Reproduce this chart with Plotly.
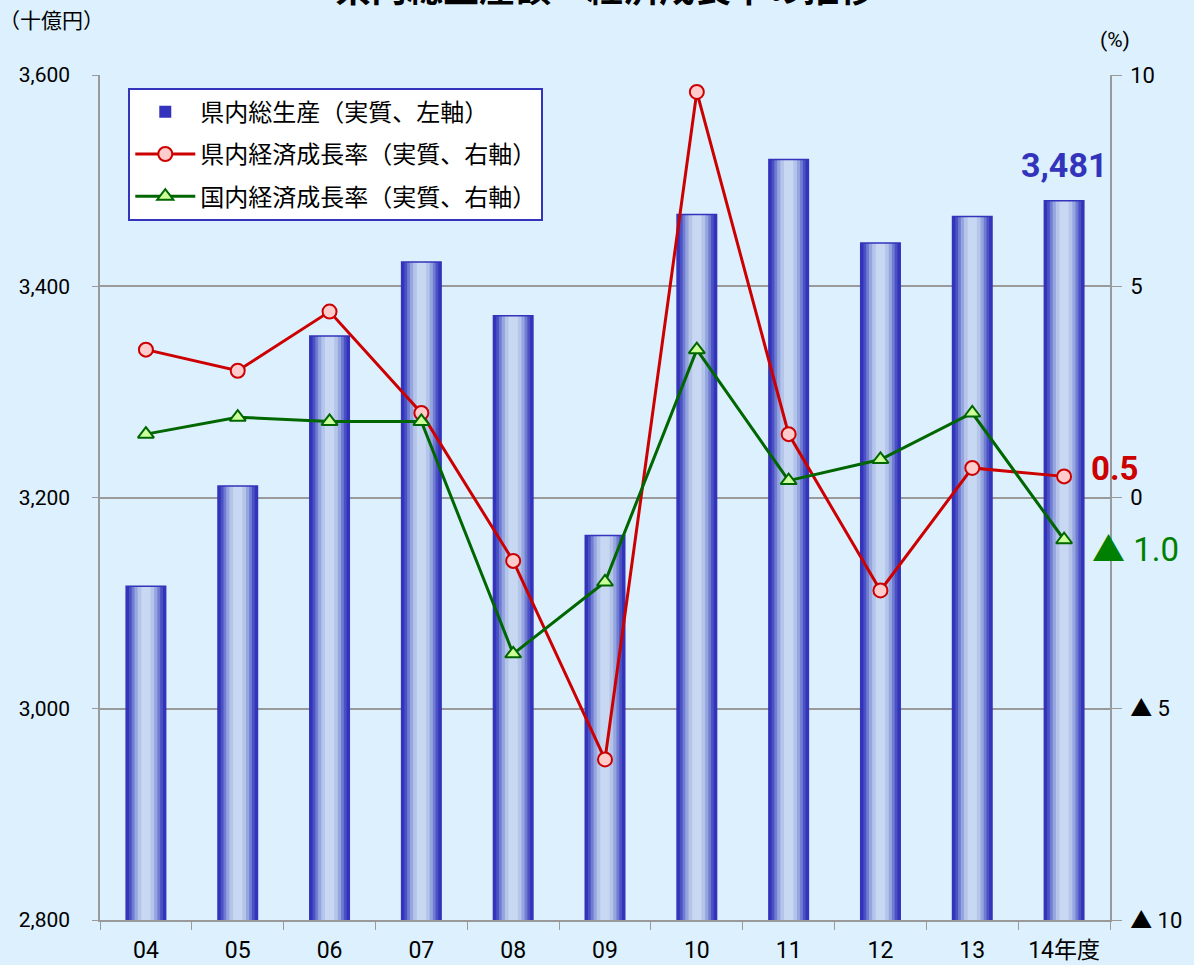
import plotly.graph_objects as go

# ── data ───────────────────────────────────────────────────────────────────────
years = ["04", "05", "06", "07", "08", "09", "10", "11", "12", "13", "14年度"]
gdp_pref = [3116, 3211, 3353, 3423, 3372, 3164, 3468, 3520, 3441, 3466, 3481]
growth_pref = [3.5, 3.0, 4.4, 2.0, -1.5, -6.2, 9.6, 1.5, -2.2, 0.7, 0.5]
growth_nat = [1.5, 1.9, 1.8, 1.8, -3.7, -2.0, 3.5, 0.4, 0.9, 2.0, -1.0]

right_ticks = [-10, -5, 0, 5, 10]
right_labels = ["▲ 10", "▲ 5", "0", "5", "10"]

_BG = "#DCF0FD"
_BLUE = "#3333BB"
_RED = "#CC0000"
_GREEN = "#006600"
_GRID = "#9A9A9A"
_NUM = "Roboto, Noto Sans CJK JP, sans-serif"
_JP = "Noto Sans CJK JP, sans-serif"

fig = go.Figure()

# bars: overlays of narrowing widths fake the cylinder gradient
shades = [
    (0.43, "#3333BB"),
    (0.37, "#4A52C3"),
    (0.31, "#6F7CD1"),
    (0.25, "#95A5DF"),
    (0.18, "#B5C5EA"),
    (0.10, "#C8D8F2"),
]
for i, (w, c) in enumerate(shades):
    fig.add_trace(go.Bar(
        x=years, y=gdp_pref, width=w, marker_color=c,
        marker_line_width=0,
        name="県内総生産（実質、左軸）",
        legendgroup="gdp",
        showlegend=(i == 0),
        hoverinfo="skip" if i else None,
    ))
# outline cap on top
fig.add_trace(go.Bar(
    x=years, y=gdp_pref, width=0.43,
    marker={"color": "rgba(0,0,0,0)", "line": {"color": _BLUE, "width": 1.5}},
    showlegend=False, hoverinfo="skip", legendgroup="gdp",
))

fig.add_trace(go.Scatter(
    x=years, y=growth_pref, yaxis="y2", mode="lines+markers",
    name="県内経済成長率（実質、右軸）", legendgroup="pref",
    line={"color": _RED, "width": 3},
    marker={"symbol": "circle", "size": 14, "color": "#FFCCCC",
            "line": {"color": _RED, "width": 2}},
))
fig.add_trace(go.Scatter(
    x=years, y=growth_nat, yaxis="y2", mode="lines+markers",
    name="国内経済成長率（実質、右軸）", legendgroup="nat",
    line={"color": _GREEN, "width": 3},
    marker={"symbol": "triangle-up", "size": 14, "color": "#CCFF99",
            "line": {"color": _GREEN, "width": 2}},
))

annotations = [
    dict(text="県内総生産額・経済成長率の推移", xref="paper", yref="paper",
         x=0.5, y=1.105, showarrow=False, yanchor="middle",
         font={"size": 36, "family": _JP, "color": "#000000", "weight": "bold"}),
    dict(text="（十億円）", xref="paper", yref="paper", x=-0.102, y=1.066,
         xanchor="left", yanchor="middle", showarrow=False,
         font={"size": 21, "family": _JP, "color": "#000000"}),
    dict(text="(%)", xref="paper", yref="paper", x=1.005, y=1.042,
         xanchor="center", yanchor="middle", showarrow=False,
         font={"size": 21, "family": _NUM, "color": "#000000"}),
    dict(text="<b>3,481</b>", x=years[-1], y=gdp_pref[-1], yshift=14,
         yanchor="bottom", showarrow=False,
         font={"size": 34, "family": _NUM, "color": _BLUE}),
    dict(text="<b>0.5</b>", x=years[-1], y=growth_pref[-1], yref="y2",
         xanchor="left", xshift=25, yshift=8, showarrow=False,
         font={"size": 33, "family": _NUM, "color": _RED}),
    dict(text="▲ 1.0", x=years[-1], y=growth_nat[-1], yref="y2",
         xanchor="left", xshift=26, yshift=-10, showarrow=False,
         font={"size": 33, "family": _NUM, "color": "#008000"}),
]

fig.update_layout(
    width=1194, height=965,
    paper_bgcolor=_BG, plot_bgcolor=_BG,
    margin={"l": 100, "r": 84, "t": 75, "b": 45},
    barmode="overlay",
    font={"family": _NUM, "color": "#000000", "size": 21},
    showlegend=True,
    legend={
        "x": 0.028, "y": 0.985, "xanchor": "left", "yanchor": "top",
        "bgcolor": "#FFFFFF", "bordercolor": _BLUE, "borderwidth": 2,
        "font": {"size": 24, "family": _JP, "color": "#000000"},
        "traceorder": "grouped", "tracegroupgap": 8, "itemwidth": 60,
    },
    xaxis={
        "type": "category", "range": [-0.5, len(years) - 0.5],
        "showgrid": False, "automargin": False,
        "showline": True, "linecolor": _GRID, "linewidth": 2,
        "ticks": "outside", "tickson": "boundaries", "ticklen": 8,
        "tickcolor": _GRID, "tickfont": {"size": 23},
        "ticklabelstandoff": 8,
    },
    yaxis={
        "range": [2800, 3600], "dtick": 200, "tickformat": ",",
        "showgrid": True, "gridcolor": _GRID, "gridwidth": 1.5,
        "showline": True, "linecolor": _GRID, "linewidth": 1.5,
        "ticks": "outside", "ticklen": 6, "tickcolor": _GRID,
        "zeroline": False, "tickfont": {"size": 21},
        "ticklabelstandoff": 18, "automargin": False,
    },
    yaxis2={
        "overlaying": "y", "side": "right", "range": [-10, 10],
        "tickvals": right_ticks, "ticktext": right_labels,
        "showgrid": False, "zeroline": False, "automargin": False,
        "showline": True, "linecolor": _GRID, "linewidth": 1.5,
        "ticks": "outside", "ticklen": 10, "tickcolor": _GRID,
        "tickfont": {"size": 22}, "ticklabelstandoff": 4,
    },
    annotations=annotations,
)

fig.write_html("out.html", config={"displayModeBar": False},
               post_script="document.body.style.margin='0';")
